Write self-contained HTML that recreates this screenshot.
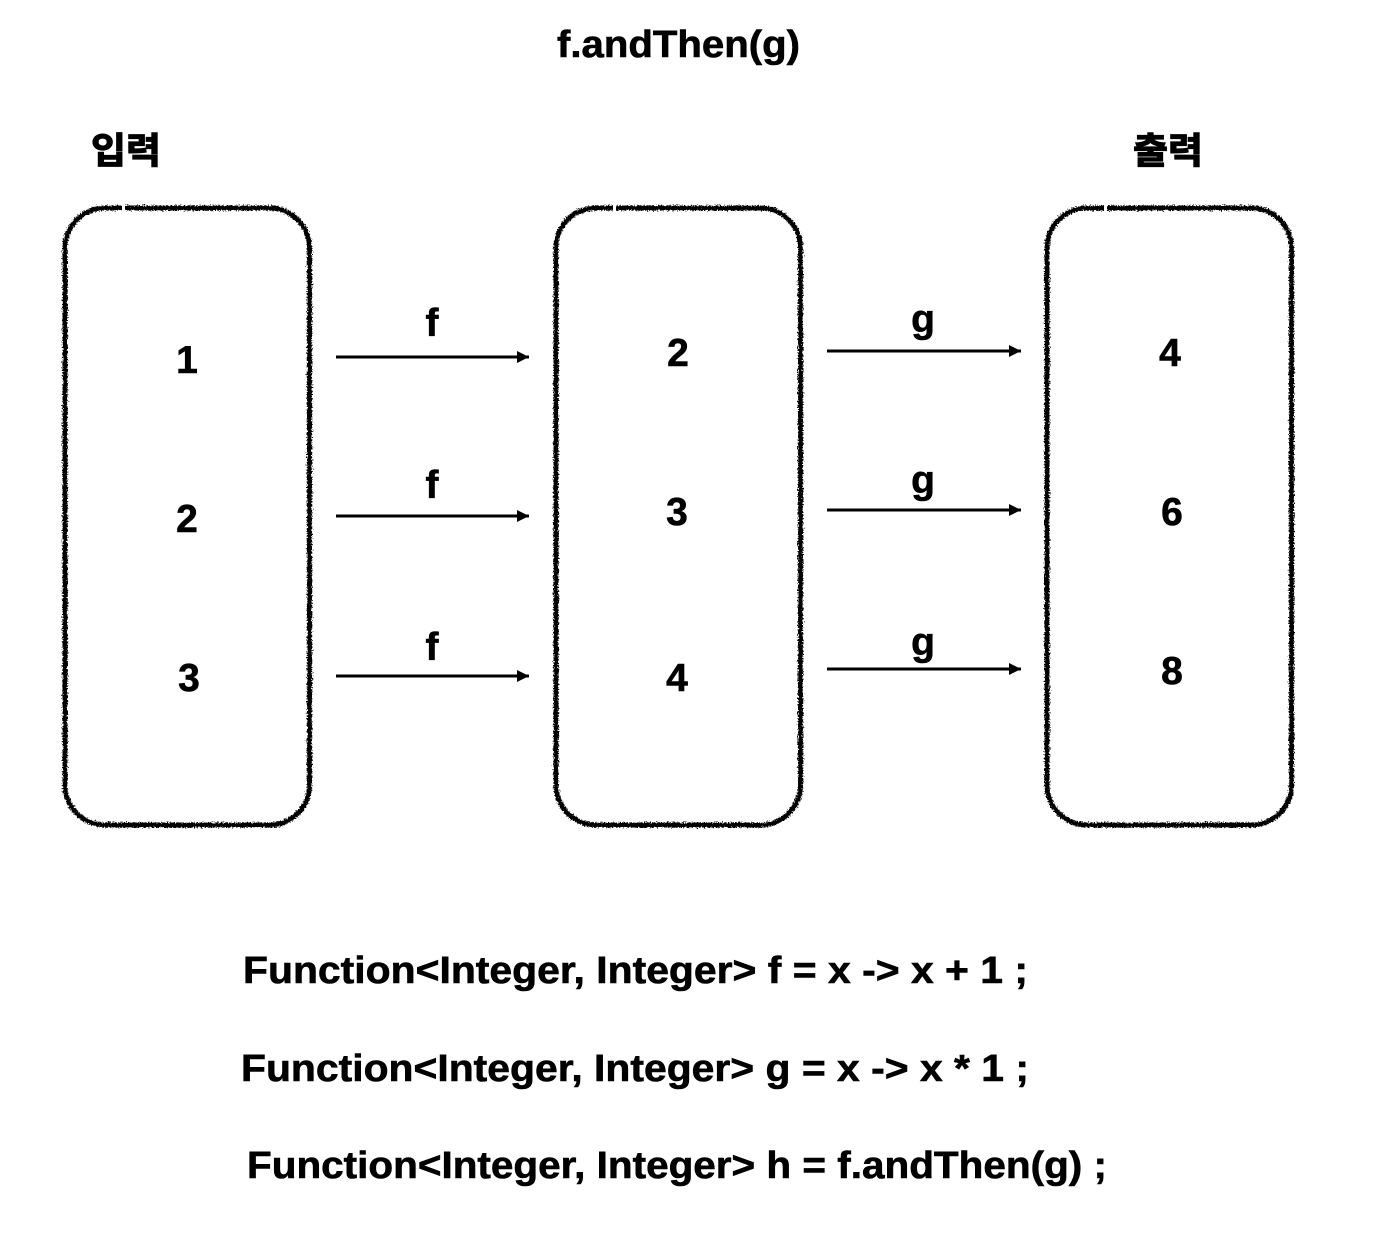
<!DOCTYPE html>
<html><head><meta charset="utf-8"><style>
html,body{margin:0;padding:0;background:#fff}
svg{display:block}
text{font-family:"Liberation Sans","Noto Sans CJK KR",sans-serif;font-weight:700;fill:#000;stroke:#000;stroke-width:.6px}
.n{font-size:39px;text-anchor:middle}
.l{font-size:38px}
</style></head><body>
<svg width="1386" height="1246" viewBox="0 0 1386 1246" xmlns="http://www.w3.org/2000/svg">
<defs>
<filter id="r" x="-5%" y="-5%" width="110%" height="110%">
<feTurbulence type="fractalNoise" baseFrequency="0.7" numOctaves="2" seed="3"/>
<feDisplacementMap in="SourceGraphic" scale="5" xChannelSelector="R" yChannelSelector="G"/>
</filter>
<marker id="a" markerUnits="userSpaceOnUse" markerWidth="14" markerHeight="14" refX="12" refY="7" orient="auto"><path d="M0 1L12 7L0 13Z" fill="#000"/></marker>
</defs>
<g fill="none" stroke="#000" stroke-width="5" filter="url(#r)">
<rect x="65" y="208" width="244.500" height="617" rx="40"/>
<rect x="556" y="208" width="244.500" height="617" rx="40"/>
<rect x="1047" y="208" width="244.500" height="617" rx="40"/>
</g>
<g fill="#fff"><rect x="122" y="204" width="3" height="9"/><rect x="613" y="204" width="3" height="9"/><rect x="1104" y="204" width="3" height="9"/></g>
<text class="l" x="557" y="57" textLength="243" lengthAdjust="spacingAndGlyphs">f.andThen(g)</text>
<text x="91" y="163" font-size="36" textLength="70" lengthAdjust="spacingAndGlyphs" style="stroke-width:1.2px">입력</text>
<text x="1133" y="163" font-size="36" textLength="70" lengthAdjust="spacingAndGlyphs" style="stroke-width:1.2px">출력</text>
<g>
<text class="n" x="187" y="373">1</text><text class="n" x="187" y="532">2</text><text class="n" x="189" y="691">3</text>
<text class="n" x="678" y="366">2</text><text class="n" x="677" y="525">3</text><text class="n" x="677" y="691">4</text>
<text class="n" x="1170" y="366">4</text><text class="n" x="1172" y="525">6</text><text class="n" x="1172" y="684">8</text>
<text class="n" x="432" y="336">f</text><text class="n" x="432" y="498">f</text><text class="n" x="432" y="660">f</text>
<text class="n" x="923" y="332">g</text><text class="n" x="923" y="493">g</text><text class="n" x="923" y="655">g</text>
</g>
<g stroke="#000" stroke-width="3">
<line x1="336" y1="357" x2="529" y2="357" marker-end="url(#a)"/>
<line x1="336" y1="516" x2="529" y2="516" marker-end="url(#a)"/>
<line x1="336" y1="676" x2="529" y2="676" marker-end="url(#a)"/>
<line x1="827" y1="351" x2="1021" y2="351" marker-end="url(#a)"/>
<line x1="827" y1="510" x2="1021" y2="510" marker-end="url(#a)"/>
<line x1="827" y1="669" x2="1021" y2="669" marker-end="url(#a)"/>
</g>
<text class="l" x="243" y="983" textLength="785" lengthAdjust="spacingAndGlyphs">Function&lt;Integer, Integer&gt; f = x -&gt; x + 1 ;</text>
<text class="l" x="241" y="1081" textLength="788" lengthAdjust="spacingAndGlyphs">Function&lt;Integer, Integer&gt; g = x -&gt; x * 1 ;</text>
<text class="l" x="247" y="1178" textLength="860" lengthAdjust="spacingAndGlyphs">Function&lt;Integer, Integer&gt; h = f.andThen(g) ;</text>
</svg>
</body></html>
